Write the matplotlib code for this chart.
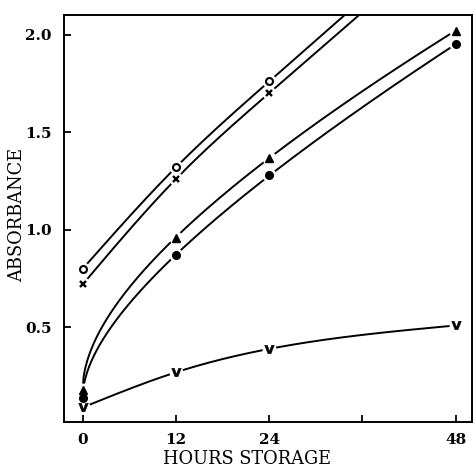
import numpy as np
import matplotlib
matplotlib.use("Agg")
import matplotlib.pyplot as plt

# Data
hours_o = [0, 12, 24]
circle_open = [0.80, 1.32, 1.76]
hours_x = [0, 12, 24]
cross = [0.72, 1.26, 1.70]
hours_full = [0, 12, 24, 48]
triangle = [0.18, 0.96, 1.37, 2.02]
dot = [0.14, 0.87, 1.28, 1.95]
vee = [0.09, 0.27, 0.39, 0.51]

xticks = [0, 12, 24, 36, 48]
xticklabels = ["0", "12", "24", "", "48"]
yticks = [0.5, 1.0, 1.5, 2.0]
yticklabels = ["0.5", "1.0", "1.5", "2.0"]


def natural_spline(t, y, tt):
    """Natural cubic spline through (t, y); linear extrapolation beyond the ends."""
    t = np.asarray(t, float)
    y = np.asarray(y, float)
    n = len(t)
    h = np.diff(t)
    A = np.zeros((n, n))
    r = np.zeros(n)
    A[0, 0] = A[-1, -1] = 1.0
    for i in range(1, n - 1):
        A[i, i - 1] = h[i - 1]
        A[i, i] = 2 * (h[i - 1] + h[i])
        A[i, i + 1] = h[i]
        r[i] = 6 * ((y[i + 1] - y[i]) / h[i] - (y[i] - y[i - 1]) / h[i - 1])
    M = np.linalg.solve(A, r)
    out = np.empty_like(tt)
    for k, x in enumerate(tt):
        if x >= t[-1]:
            i = n - 2
            slope = (y[i + 1] - y[i]) / h[i] + h[i] * (2 * M[i + 1] + M[i]) / 6
            out[k] = y[-1] + slope * (x - t[-1])
            continue
        i = min(max(np.searchsorted(t, x) - 1, 0), n - 2)
        a = (t[i + 1] - x) / h[i]
        b = (x - t[i]) / h[i]
        out[k] = (a * y[i] + b * y[i + 1]
                  + ((a ** 3 - a) * M[i] + (b ** 3 - b) * M[i + 1]) * h[i] ** 2 / 6)
    return out


def fit_curve(t, y, t_end, kind):
    tt = np.linspace(0, t_end, 400)
    if kind == "sqrt":
        t = np.asarray(t, float)
        A = np.column_stack([np.ones_like(t), np.sqrt(t), t])
        coef, *_ = np.linalg.lstsq(A, np.asarray(y, float), rcond=None)
        yy = coef[0] + coef[1] * np.sqrt(tt) + coef[2] * tt
    else:
        yy = natural_spline(t, y, tt)
    return tt, yy


fig = plt.figure(figsize=(4.74, 4.69), dpi=100)
ax = fig.add_axes([0.135, 0.100, 0.861, 0.868])

serif = ["DejaVu Serif"]

series = [
    (hours_o, circle_open, 40, "spline", dict(marker="o", ms=5, mfc="white", mec="black", mew=1.5)),
    (hours_x, cross, 40, "spline", dict(marker="x", ms=4.5, mec="black", mew=1.7)),
    (hours_full, triangle, 48, "sqrt", dict(marker="^", ms=5.5, mfc="black", mec="black")),
    (hours_full, dot, 48, "sqrt", dict(marker="o", ms=5.5, mfc="black", mec="black")),
    (hours_full, vee, 48, "spline", dict(marker=r"$\mathbf{v}$", ms=7, mfc="black", mec="black", mew=0.3)),
]

for t, y, tend, kind, mk in series:
    tt, yy = fit_curve(t, y, tend, kind)
    ax.plot(tt, yy, color="black", lw=1.4, zorder=2, solid_capstyle="butt")
for t, y, tend, kind, mk in series:
    ax.plot(t, y, ls="none", marker="o", ms=10, mfc="white", mec="none", zorder=3, clip_on=False)
for t, y, tend, kind, mk in series:
    ax.plot(t, y, ls="none", zorder=4, clip_on=False, **mk)

ax.set_xlim(-2.4, 50.1)
ax.set_ylim(0.015, 2.10)
ax.set_xticks(xticks)
ax.set_xticklabels(xticklabels)
ax.set_yticks(yticks)
ax.set_yticklabels(yticklabels)
ax.tick_params(direction="in", length=5, width=1.3)
ax.tick_params(axis="y", pad=9)
ax.tick_params(axis="x", pad=8)
for lab in ax.get_xticklabels() + ax.get_yticklabels():
    lab.set_family(serif)
    lab.set_fontweight("bold")
    lab.set_fontsize(11)
for s in ax.spines.values():
    s.set_linewidth(1.4)

ax.set_xlabel("HOURS STORAGE", family=serif, fontsize=12.8)
ax.set_ylabel("ABSORBANCE", family=serif, fontsize=12.8)
ax.xaxis.set_label_coords(0.449, -0.069)
ax.yaxis.set_label_coords(-0.094, 0.51)

fig.savefig("out.png", dpi=100)
